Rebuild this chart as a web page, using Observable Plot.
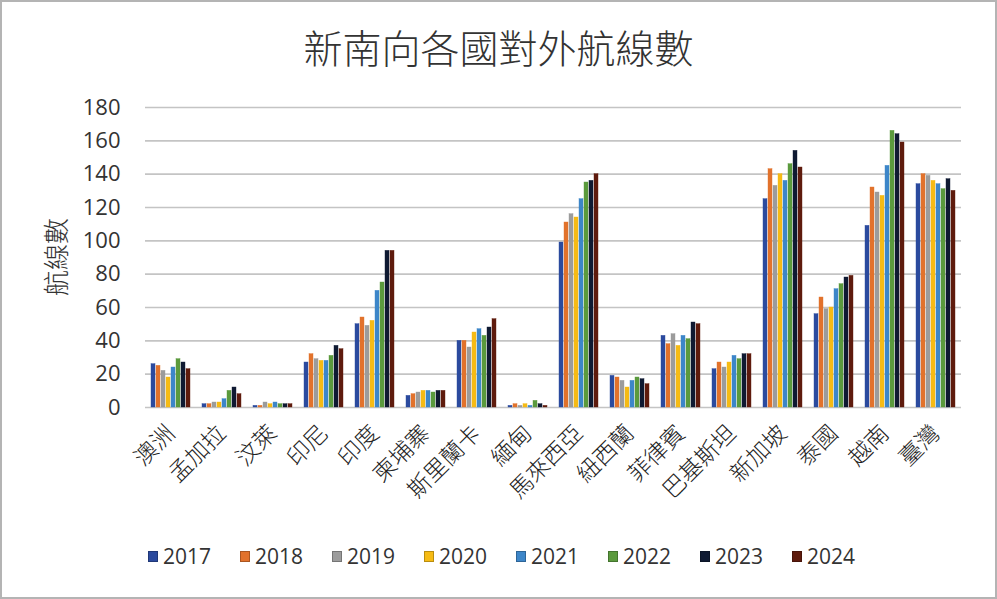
<!DOCTYPE html>
<html>
<head>
<meta charset="utf-8">
<script src="https://cdn.jsdelivr.net/npm/d3@7"></script>
<script src="https://cdn.jsdelivr.net/npm/@observablehq/plot@0.6"></script>
<style>
  html, body { margin: 0; padding: 0; background: #fff; }
  #wrap { position: relative; width: 997px; height: 599px; overflow: hidden; background: #fff; }
  #frame { position: absolute; left: 0; top: 0; width: 997px; height: 599px; box-sizing: border-box; border: 2px solid #b4b4b4; pointer-events: none; }
  #title { position: absolute; left: 0; top: 21px; width: 997px; text-align: center; font-family: "Noto Sans CJK TC", sans-serif; font-weight: 300; font-size: 39px; color: #333; line-height: 50px; }
  #ytitle { position: absolute; left: 54px; top: 257px; transform: translate(-50%, -50%) rotate(-90deg); font-family: "Noto Sans CJK TC", sans-serif; font-weight: 300; font-size: 26px; color: #333; white-space: nowrap; }
  #chart { position: absolute; left: 0; top: 85px; }
  #legend { position: absolute; left: 0; top: 542px; width: 997px; display: flex; justify-content: center; gap: 29px; font-family: "Open Sans", sans-serif; font-size: 21px; color: #333; padding-left: 6px; box-sizing: border-box; }
  #legend .item { display: flex; align-items: center; }
  #legend .sw { width: 10px; height: 11px; margin-right: 5px; box-sizing: border-box; }
  #chart [aria-label^="y-axis"] text { font-family: "Open Sans", sans-serif; font-size: 22px; fill: #333; }
  #chart [aria-label^="fx-axis"] text { font-family: "Noto Sans CJK TC", sans-serif; font-weight: 300; font-size: 23px; fill: #222; }
</style>
</head>
<body>
<div id="wrap">
  <div id="title">新南向各國對外航線數</div>
  <div id="ytitle">航線數</div>
  <div id="chart"></div>
  <div id="legend"></div>
  <div id="frame"></div>
</div>
<script>
const categories = ["澳洲","孟加拉","汶萊","印尼","印度","柬埔寨","斯里蘭卡","緬甸","馬來西亞","紐西蘭","菲律賓","巴基斯坦","新加坡","泰國","越南","臺灣"];
const years = ["2017","2018","2019","2020","2021","2022","2023","2024"];
const y2017 = [26, 2, 1, 27, 50,  7, 40, 1,  99, 19, 43, 23, 125, 56, 109, 134];
const y2018 = [25, 2, 1, 32, 54,  8, 40, 2, 111, 18, 38, 27, 143, 66, 132, 140];
const y2019 = [22, 3, 3, 29, 49,  9, 36, 1, 116, 16, 44, 24, 133, 59, 129, 139];
const y2020 = [18, 3, 2, 28, 52, 10, 45, 2, 114, 12, 37, 27, 140, 60, 127, 136];
const y2021 = [24, 5, 3, 28, 70, 10, 47, 1, 125, 16, 43, 31, 136, 71, 145, 134];
const y2022 = [29, 10, 2, 31, 75, 9, 43, 4, 135, 18, 41, 29, 146, 74, 166, 131];
const y2023 = [27, 12, 2, 37, 94, 10, 48, 2, 136, 17, 51, 32, 154, 78, 164, 137];
const y2024 = [23, 8, 2, 35, 94, 10, 53, 1, 140, 14, 50, 32, 144, 79, 159, 130];
const yTicks = [0, 20, 40, 60, 80, 100, 120, 140, 160, 180];
const colors = ["#2b4a9e", "#e2722c", "#9c9c9c", "#f6bb14", "#3d86c9", "#5b9a3d", "#0f1a32", "#5e1b0d"];

const series = [y2017, y2018, y2019, y2020, y2021, y2022, y2023, y2024];
const data = [];
categories.forEach((c, i) => {
  years.forEach((yr, j) => data.push({country: c, year: yr, value: series[j][i]}));
});

const plot = Plot.plot({
  width: 997,
  height: 452,
  marginLeft: 140,
  marginRight: 32,
  marginTop: 22,
  marginBottom: 130,
  fx: {domain: categories, padding: 0, label: null, tickRotate: -45, tickSize: 0, tickPadding: 22},
  x: {domain: years, axis: null, paddingInner: 0.2, paddingOuter: 0.9},
  y: {domain: [0, 180], ticks: yTicks, tickSize: 0, tickPadding: 25, label: null, tickFormat: d => String(d)},
  color: {domain: years, range: colors},
  marks: [
    Plot.ruleY(yTicks.slice(1), {stroke: "#c4c4c4", strokeWidth: 1.6}),
    Plot.ruleY([0], {stroke: "#c4c4c4", strokeWidth: 1.6}),
    Plot.barY(data, {fx: "country", x: "year", y: "value", fill: "year", stroke: "year", strokeWidth: 0.4})
  ]
});
document.getElementById("chart").appendChild(plot);

const legend = document.getElementById("legend");
years.forEach((yr, j) => {
  const item = document.createElement("div");
  item.className = "item";
  const sw = document.createElement("span");
  sw.className = "sw";
  sw.style.background = colors[j];
  sw.style.border = "1px solid " + d3.color(colors[j]).darker(0.8);
  const t = document.createElement("span");
  t.textContent = yr;
  item.appendChild(sw);
  item.appendChild(t);
  legend.appendChild(item);
});
</script>
</body>
</html>
